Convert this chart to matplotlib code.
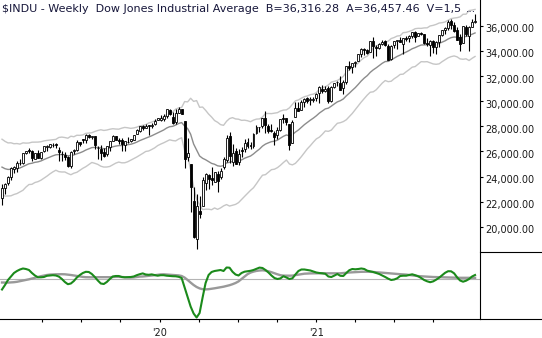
import numpy as np
import pandas as pd
import matplotlib
matplotlib.use("Agg")
import matplotlib.pyplot as plt
import matplotlib.transforms as mtransforms

# weekly bars (Friday week-ending); the first 30 weeks only warm up the channel
week_end = pd.date_range("2018-06-01", "2022-01-07", freq="W-FRI")
n_warm = 30

opens = [
    # 2018 warm-up
    24800, 24700, 25320, 24990, 24550, 24300, 24500, 25020, 25050, 25400,
    25470, 25300, 25700, 25850, 25950, 25950, 26150, 26750, 26500, 26400,
    25300, 25400, 24650, 25300, 25950, 25350, 24300, 25800, 24350, 24100,
    # chart
    22317, 23058, 23474, 23949, 24631, 24687, 25062, 25096, 25896, 26080,
    26040, 25416, 25894, 25512, 26076, 26376, 26368, 26500, 26580, 26080,
    25840, 25720, 25562, 24820, 26066, 26104, 26730, 26964, 26881, 27338,
    27186, 27196, 26254, 26211, 25941, 25775, 26356, 26840, 27204, 26904,
    26887, 26525, 26717, 26842, 26950, 27402, 27639, 28015, 27903, 28109,
    27996, 28215, 28522, 28495, 28553, 28825, 29307, 28740, 28319, 29068,
    29397, 28402, 25590, 24992, 22051, 19028, 21228, 21680, 23491, 24112,
    23912, 23581, 24175, 23935, 24759, 25342, 27226, 25152, 26026, 25138,
    26146, 26238, 26744, 26515, 26419, 27472, 27918, 28002, 28666, 27994,
    27700, 27495, 27314, 27676, 28651, 28679, 28202, 26681, 28778, 29480,
    29333, 29910, 30233, 30126, 30140, 30287, 30627, 31015, 30848, 31037,
    30055, 31151, 31505, 31459, 31066, 31549, 32798, 32715, 33082, 33222,
    33791, 34180, 34093, 33904, 34782, 34291, 34280, 34584, 34794, 34411,
    33366, 34479, 34763, 34857, 34574, 35076, 35009, 35198, 35500, 35232,
    35457, 35385, 34648, 34511, 34816, 34325, 34700, 35308, 35699, 35834,
    36375, 36087, 35695, 35090, 34631, 35894, 35200, 35896, 36321,
]
highs = [
    24900, 25400, 25400, 25000, 24650, 24500, 25050, 25200, 25520, 25500,
    25700, 25700, 25900, 26170, 26000, 26200, 26770, 26770, 26950, 26500,
    25800, 25500, 25500, 26200, 25950, 25400, 25600, 25980, 24800, 24400,
    23381, 23518, 24083, 24750, 24864, 25217, 25439, 25892, 26046, 26241,
    26155, 25884, 26109, 25949, 26459, 26493, 26596, 26696, 26695, 26353,
    26028, 25921, 25666, 26022, 26161, 26907, 26764, 26966, 27354, 27399,
    27270, 27232, 26469, 26521, 26307, 26431, 26862, 27306, 27217, 27051,
    27047, 26839, 27120, 27010, 27347, 27774, 28036, 28090, 28175, 28109,
    28290, 28607, 28701, 28873, 28997, 29374, 29373, 29118, 29408, 29568,
    29410, 28402, 27102, 25018, 23186, 22595, 22443, 24008, 24264, 24189,
    24765, 24358, 24472, 24661, 25584, 27338, 27580, 26611, 26285, 26204,
    26353, 26977, 27071, 26791, 27471, 28097, 27974, 28655, 29199, 28173,
    28195, 27603, 27932, 28624, 28958, 28679, 28202, 28484, 29934, 29964,
    30117, 30229, 30319, 30369, 30322, 30637, 31193, 31272, 31188, 31186,
    31176, 31480, 31643, 32010, 31677, 32793, 33227, 33073, 33227, 33801,
    34256, 34256, 34173, 34811, 35091, 34464, 34631, 34849, 34849, 34544,
    34508, 34786, 34871, 35092, 35067, 35172, 35240, 35518, 35631, 35459,
    35517, 35390, 35076, 34891, 34912, 34817, 35311, 35677, 35892, 36432,
    36565, 36282, 35880, 35358, 36001, 36061, 35954, 36544, 36952,
]
lows = [
    24250, 24700, 24950, 24420, 24050, 24080, 24500, 24950, 25000, 25100,
    25250, 25000, 25600, 25800, 25800, 25850, 26050, 26350, 26300, 25000,
    25100, 24100, 24600, 25250, 25000, 24200, 24300, 24240, 23880, 22400,
    21713, 22638, 23307, 23715, 24260, 24351, 24888, 25013, 25794, 25851,
    25208, 25390, 25460, 25389, 25979, 26052, 26275, 26358, 26307, 25222,
    25208, 25325, 24803, 24680, 25802, 26062, 26436, 26655, 26693, 27105,
    26993, 26223, 25440, 25339, 25550, 25665, 26079, 26801, 26891, 26612,
    26035, 26010, 26699, 26754, 26926, 27402, 27560, 27748, 27886, 27325,
    27857, 28136, 28485, 28418, 28418, 28690, 28897, 28170, 28169, 29068,
    28947, 24681, 25226, 21154, 19094, 18214, 20735, 21680, 22941, 23018,
    23361, 23572, 22790, 23806, 24631, 25197, 25082, 24843, 24970, 24906,
    25553, 25970, 26250, 26162, 26304, 27372, 27531, 27877, 27459, 27453,
    27544, 26537, 27029, 27666, 28254, 28086, 26144, 26681, 28778, 29190,
    29333, 29564, 29826, 29688, 29903, 30029, 29881, 30629, 30750, 29857,
    29953, 31054, 31224, 30930, 30548, 31385, 32481, 32255, 32760, 33222,
    33542, 33661, 33740, 33904, 33473, 33597, 34169, 34450, 34393, 33271,
    33271, 34236, 34145, 34687, 33741, 34760, 34717, 35012, 34690, 35193,
    35305, 34597, 34418, 33613, 33843, 33785, 34332, 35231, 35370, 35705,
    35736, 35545, 34870, 34006, 34631, 35232, 34006, 35896, 36230,
]
closes = [
    24635, 25317, 25090, 24581, 24271, 24456, 25019, 25058, 25451, 25463,
    25313, 25669, 25790, 25965, 25917, 26154, 26743, 26458, 26447, 25340,
    25444, 24688, 25271, 25989, 25413, 24286, 25538, 24389, 24101, 22445,
    23062, 23433, 23996, 24706, 24737, 25064, 25106, 25883, 26031, 26026,
    25450, 25849, 25502, 25929, 26425, 26412, 26559, 26543, 26505, 25942,
    25764, 25586, 24815, 25984, 26090, 26719, 26600, 26922, 27332, 27154,
    27192, 26485, 26287, 25886, 25629, 26403, 26797, 27220, 26935, 26820,
    26573, 26817, 26770, 26958, 27347, 27681, 28005, 27876, 28051, 28015,
    28135, 28455, 28645, 28634, 28823, 29348, 28990, 28256, 29103, 29398,
    28992, 25409, 25865, 23186, 19174, 21637, 21053, 23719, 24242, 23775,
    23724, 24331, 23685, 24465, 25383, 27111, 25606, 25871, 25016, 25827,
    26075, 26672, 26470, 26428, 27433, 27931, 27930, 28654, 28133, 27666,
    27657, 27174, 27683, 28587, 28606, 28336, 26502, 28323, 29480, 29263,
    29910, 30218, 30046, 30179, 30200, 30606, 31098, 30814, 30997, 29983,
    31148, 31458, 31494, 30932, 31496, 32779, 32628, 33072, 33153, 33801,
    34200, 34043, 33875, 34778, 34382, 34208, 34529, 34756, 34480, 33290,
    34433, 34786, 34870, 34688, 35062, 34935, 35209, 35515, 35120, 35456,
    35369, 34608, 34584, 34798, 34326, 34746, 35295, 35677, 35820, 36328,
    36100, 35602, 34899, 34580, 35971, 35365, 35951, 36338, 36407,
]

# lower panel: oscillator and its slow line (chart weeks only)
osc = [
    -1.01, -0.56, -0.06, 0.29, 0.64, 0.84, 0.99, 1.09, 1.04, 0.94,
    0.64, 0.39, 0.21, 0.21, 0.24, 0.36, 0.39, 0.42, 0.39, 0.28,
    0.04, -0.26, -0.48, -0.41, -0.16, 0.19, 0.44, 0.64, 0.76, 0.74,
    0.54, 0.24, -0.11, -0.41, -0.46, -0.26, 0.04, 0.29, 0.34, 0.34,
    0.24, 0.21, 0.22, 0.24, 0.29, 0.42, 0.52, 0.60, 0.49, 0.46,
    0.50, 0.44, 0.37, 0.42, 0.42, 0.37, 0.34, 0.32, 0.31, 0.26,
    0.14, -0.81, -1.76, -2.71, -3.41, -3.81, -3.36, -1.81, -0.36, 0.44,
    0.74, 0.84, 0.89, 0.94, 0.84, 1.19, 1.17, 0.76, 0.49, 0.39,
    0.64, 0.77, 0.82, 0.86, 0.94, 1.06, 1.18, 1.14, 0.94, 0.69,
    0.39, 0.14, 0.04, 0.10, 0.32, 0.19, 0.04, 0.11, 0.49, 0.84,
    0.99, 0.99, 0.94, 0.89, 0.79, 0.69, 0.64, 0.61, 0.56, 0.29,
    0.24, 0.38, 0.54, 0.36, 0.34, 0.64, 0.92, 1.04, 1.01, 1.04,
    1.09, 1.04, 0.87, 0.81, 0.74, 0.64, 0.54, 0.39, 0.24, 0.07,
    -0.06, -0.01, 0.11, 0.34, 0.37, 0.37, 0.44, 0.51, 0.42, 0.31,
    0.14, -0.06, -0.19, -0.28, -0.20, -0.03, 0.17, 0.42, 0.66, 0.82,
    0.81, 0.61, 0.21, -0.11, -0.23, -0.13, 0.04, 0.29, 0.44,
]
osc_slow = [
    -0.31, -0.32, -0.32, -0.30, -0.28, -0.24, -0.18, -0.12, -0.06, 0.01,
    0.08, 0.16, 0.24, 0.32, 0.38, 0.44, 0.48, 0.50, 0.51, 0.52,
    0.52, 0.51, 0.48, 0.44, 0.39, 0.34, 0.29, 0.25, 0.22, 0.21,
    0.21, 0.22, 0.22, 0.22, 0.22, 0.22, 0.22, 0.24, 0.26, 0.26,
    0.24, 0.21, 0.19, 0.18, 0.20, 0.24, 0.28, 0.29, 0.32, 0.36,
    0.38, 0.42, 0.46, 0.50, 0.51, 0.49, 0.46, 0.44, 0.42, 0.40,
    0.34, 0.18, -0.06, -0.32, -0.56, -0.76, -0.90, -0.98, -1.00, -0.98,
    -0.94, -0.89, -0.84, -0.79, -0.73, -0.66, -0.58, -0.48, -0.36, -0.20,
    0.04, 0.29, 0.52, 0.68, 0.78, 0.85, 0.89, 0.91, 0.88, 0.81,
    0.72, 0.61, 0.51, 0.42, 0.38, 0.37, 0.37, 0.38, 0.43, 0.49,
    0.54, 0.57, 0.59, 0.60, 0.61, 0.61, 0.61, 0.61, 0.61, 0.61,
    0.61, 0.61, 0.61, 0.61, 0.64, 0.66, 0.69, 0.71, 0.73, 0.74,
    0.76, 0.77, 0.77, 0.76, 0.74, 0.72, 0.70, 0.67, 0.64, 0.62,
    0.60, 0.57, 0.54, 0.52, 0.50, 0.48, 0.44, 0.40, 0.36, 0.33,
    0.31, 0.29, 0.28, 0.26, 0.24, 0.23, 0.22, 0.21, 0.20, 0.19,
    0.18, 0.17, 0.17, 0.16, 0.16, 0.16, 0.17, 0.17, 0.16,
]

price_ticks = list(range(20000, 36001, 2000))
title = ("$INDU - Weekly  Dow Jones Industrial Average  "
         "B=36,316.28  A=36,457.46  V=1,5")

df = pd.DataFrame({"open": opens, "high": highs, "low": lows, "close": closes},
                  index=week_end)

# Keltner channel: EMA(20) +/- 2 * ATR(10)
prev_close = df["close"].shift(1)
tr = pd.concat([df["high"] - df["low"],
                (df["high"] - prev_close).abs(),
                (df["low"] - prev_close).abs()], axis=1).max(axis=1)
atr = tr.ewm(alpha=1 / 10, adjust=False).mean()
mid = df["close"].ewm(span=20, adjust=False).mean()
upper = mid + 2 * atr
lower = mid - 2 * atr

bars = df.iloc[n_warm:]
x = np.arange(len(bars))
t0 = bars.index[0]


def week_pos(d):
    return (pd.Timestamp(d) - t0).days / 7.0


W, H = 542, 338
fig = plt.figure(figsize=(W / 100, H / 100), dpi=100)
ax = fig.add_axes([0, (H - 251) / H, 480 / W, 251 / H])
ax2 = fig.add_axes([0, (H - 319) / H, 480 / W, 67 / H])

xlim = (-2 / 2.994, 478 / 2.994)

# price panel
ax.plot(x, upper.iloc[n_warm:].values, color="#c6c6c6", lw=1.0, zorder=1)
ax.plot(x, lower.iloc[n_warm:].values, color="#c6c6c6", lw=1.0, zorder=1)
ax.plot(x, mid.iloc[n_warm:].values, color="#8c8c8c", lw=1.0, zorder=1)

o = bars["open"].values
c = bars["close"].values
ax.vlines(x, bars["low"].values, bars["high"].values, color="black",
          lw=0.8, zorder=2)
body_lo = np.minimum(o, c)
body_h = np.maximum(np.abs(c - o), 25)
faces = ["white" if cc >= oo else "black" for oo, cc in zip(o, c)]
ax.bar(x, body_h, bottom=body_lo, width=0.66, color=faces,
       edgecolor="black", linewidth=0.6, zorder=3)

ax.set_xlim(*xlim)
ax.set_ylim(18078, 38062)
ax.yaxis.tick_right()
ax.set_yticks(price_ticks)
ax.set_yticklabels([f"{v:,.2f}" for v in price_ticks])
ax.tick_params(axis="y", direction="out", length=2.4, width=0.8, pad=1.5,
               labelsize=7, labelcolor="#1a1a1a")
ax.set_xticks([])
shift = mtransforms.ScaledTranslation(0, -0.024, fig.dpi_scale_trans)
for lab in ax.get_yticklabels():
    lab.set_transform(lab.get_transform() + shift)
for side in ("top", "left", "bottom"):
    ax.spines[side].set_visible(False)
ax.spines["right"].set_linewidth(0.8)

# oscillator panel
ax2.axhline(0, color="#b4b4b4", lw=0.8, zorder=1)
ax2.plot(x, osc_slow, color="#999999", lw=1.7, zorder=2)
ax2.plot(x, osc, color="#1b8a1b", lw=1.5, zorder=3)
ax2.set_xlim(*xlim)
ax2.set_ylim(-3.96, 2.74)
ax2.set_yticks([])
years = ["2020-01-01", "2021-01-01"]
quarters = [d for d in pd.date_range("2019-04-01", "2021-10-01", freq="QS")
            if d.month != 1]
ax2.set_xticks([week_pos(d) for d in years])
ax2.set_xticklabels(["'20", "'21"])
ax2.set_xticks([week_pos(d) for d in quarters], minor=True)
ax2.tick_params(axis="x", which="both", direction="out", length=1.8,
                width=0.8, pad=5, labelsize=7, labelcolor="#1a1a1a")
for side in ("top", "left"):
    ax2.spines[side].set_visible(False)
for side in ("right", "bottom"):
    ax2.spines[side].set_linewidth(0.8)

# frame pieces in the right margin
fig.add_artist(plt.Line2D([480 / W, 1], [(H - 319) / H] * 2, color="black",
                          lw=0.8, transform=fig.transFigure))
fig.add_artist(plt.Line2D([480 / W, 1], [(H - 251.5) / H] * 2,
                          color="black", lw=0.8, transform=fig.transFigure))

# header line, sized to its span
head = fig.text(2 / W, 1 - 8.5 / H, title, ha="left", va="center",
                fontsize=7.5, color="#16163a")
renderer = fig.canvas.get_renderer()
w_px = head.get_window_extent(renderer=renderer).width
head.set_fontsize(7.5 * 459 / w_px)
fig.text(466 / W, 1 - 8.5 / H, "...", ha="left", va="center",
         fontsize=7.5, color="#16163a")

fig.savefig("out.png", dpi=100)
